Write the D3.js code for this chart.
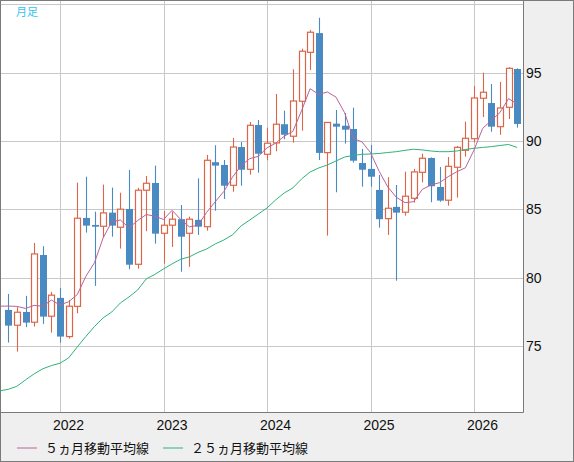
<!DOCTYPE html>
<html>
<head>
<meta charset="utf-8">
<script src="https://cdn.jsdelivr.net/npm/d3@7"></script>
<style>
  body { margin: 0; background: #fff; }
  svg { display: block; }
</style>
</head>
<body>
<div id="chart"></div>
<script>
// monthly candles, Jul 2021 .. Jun 2026
const months = d3.timeMonth.range(new Date(2021, 6, 1), new Date(2026, 6, 1))

const opens = [77.64, 76.52, 77.49, 76.74, 81.66, 77.18, 78.52, 75.69, 77.90, 84.37,
  83.86, 83.76, 84.76, 83.69, 85.03, 80.98, 86.40, 86.93, 83.25, 83.84,
  84.28, 83.25, 84.23, 83.73, 88.45, 88.25, 86.76, 89.56, 87.93, 91.17,
  89.03, 89.86, 91.23, 90.35, 92.91, 96.49, 97.90, 89.15, 91.27, 91.12,
  90.88, 88.39, 87.96, 86.42, 84.32, 85.18, 84.79, 85.81, 87.71, 88.76,
  86.64, 85.67, 88.08, 89.32, 90.17, 93.13, 92.78, 91.05, 92.47, 95.27]
const highs = [78.81, 77.84, 78.67, 82.54, 82.30, 78.96, 79.25, 78.37, 86.95, 87.39,
  84.83, 86.81, 86.59, 86.22, 87.88, 86.57, 87.44, 88.20, 84.88, 84.83,
  85.32, 84.47, 87.27, 88.98, 89.69, 88.61, 90.22, 89.93, 91.39, 91.54,
  90.98, 93.44, 92.22, 95.25, 96.76, 98.12, 99.02, 91.39, 92.27, 92.05,
  92.44, 89.42, 89.71, 87.52, 87.35, 86.78, 87.76, 87.96, 89.07, 88.80,
  88.10, 88.83, 89.64, 91.42, 94.03, 95.00, 94.17, 94.32, 95.40, 95.32]
const lows = [75.25, 74.59, 76.38, 76.42, 76.62, 75.98, 75.25, 75.54, 77.40, 83.30,
  79.40, 82.93, 83.00, 82.13, 80.62, 80.66, 83.40, 82.49, 81.03, 82.25,
  80.44, 80.79, 83.13, 83.44, 84.90, 85.76, 86.29, 86.73, 87.54, 87.68,
  88.59, 89.25, 90.13, 89.88, 90.76, 95.20, 88.61, 83.08, 86.25, 89.81,
  88.42, 86.66, 86.66, 83.66, 83.13, 79.78, 84.54, 85.49, 86.98, 85.52,
  85.56, 85.27, 85.86, 88.86, 89.91, 91.76, 90.68, 90.46, 91.61, 90.98]
const closes = [76.49, 77.47, 76.71, 81.74, 77.15, 78.72, 75.69, 77.91, 84.35, 83.81,
  83.73, 84.74, 83.81, 85.01, 80.95, 86.40, 86.91, 83.22, 83.84, 84.28,
  83.00, 84.28, 83.73, 88.59, 88.20, 86.73, 89.56, 87.90, 91.15, 89.07,
  89.84, 91.23, 90.46, 92.93, 96.57, 97.96, 89.13, 91.36, 91.05, 90.83,
  88.56, 87.90, 87.39, 84.28, 85.08, 84.76, 85.96, 87.74, 88.74, 86.69,
  85.64, 88.15, 89.54, 90.20, 93.15, 93.57, 91.05, 92.42, 95.32, 91.25]

// moving averages, first value is Jun 2021 (off the left edge)
const ma5 = [77.92, 77.92, 77.90, 77.75, 77.97, 77.91, 78.36, 78.00, 78.24, 78.76, 80.10,
  81.10, 82.91, 84.09, 84.22, 83.65, 84.18, 84.62, 84.50, 84.26, 84.93,
  84.25, 83.72, 83.83, 84.78, 85.56, 86.31, 87.36, 88.20, 88.71, 88.88,
  89.50, 89.84, 90.35, 90.71, 92.21, 93.83, 93.41, 93.59, 93.21, 92.07,
  90.19, 89.94, 89.15, 87.79, 86.64, 85.88, 85.49, 85.56, 86.46, 86.78,
  86.95, 87.39, 87.75, 88.04, 89.34, 90.92, 91.50, 92.08, 93.10, 92.72]
const ma25 = [71.72, 71.83, 72.05, 72.52, 72.96, 73.33, 73.57, 73.74, 74.13, 74.93, 75.70,
  76.43, 77.06, 77.49, 78.15, 78.59, 79.10, 79.91, 80.24, 80.64, 81.01,
  81.35, 81.52, 81.85, 82.10, 82.47, 82.76, 83.13, 83.79, 84.22, 84.66,
  85.10, 85.69, 86.20, 86.57, 87.22, 87.74, 88.03, 88.25, 88.54, 88.83,
  88.94, 89.03, 89.05, 89.09, 89.16, 89.22, 89.32, 89.40, 89.35, 89.27,
  89.22, 89.22, 89.27, 89.38, 89.47, 89.53, 89.59, 89.67, 89.75, 89.53]

const yTicks = [75, 80, 85, 90, 95]
const yGrid = [75, 80, 85, 90, 95, 100]
const legendNames = ['５ヵ月移動平均線', '２５ヵ月移動平均線']

const W = 574, H = 462
const plot = { left: 1, top: 1, right: 523, bottom: 412 }
const upColor = '#dc6548', downColor = '#4a8ac2'
const ma5Color = '#b8649a', ma25Color = '#2fb37a'

const x = d3.scaleLinear().domain([6, 54]).range([60, 474])
const y = d3.scaleLinear().domain([75, 95]).range([346, 72.7])

const candles = months.map((d, i) => ({
  date: d, i, o: opens[i], h: highs[i], l: lows[i], c: closes[i]
}))
const yearStarts = candles.filter(d => d.date.getMonth() === 0).map(d => d.i)

const svg = d3.select('#chart').append('svg')
  .attr('width', W)
  .attr('height', H)
  .style('font-family', '"Liberation Sans", Arial, sans-serif')

svg.append('rect')
  .attr('width', W).attr('height', H)
  .attr('fill', '#efefef')

svg.append('rect')
  .attr('x', plot.left).attr('y', plot.top)
  .attr('width', plot.right - plot.left).attr('height', plot.bottom - plot.top)
  .attr('fill', '#fff')

svg.append('clipPath').attr('id', 'clip')
  .append('rect')
  .attr('x', plot.left).attr('y', plot.top)
  .attr('width', plot.right - plot.left).attr('height', plot.bottom - plot.top)

const grid = svg.append('g')
  .attr('stroke', '#c8c8c8')
  .attr('stroke-width', 1)
  .attr('clip-path', 'url(#clip)')

grid.selectAll('line.h')
  .data(yGrid)
  .join('line')
  .attr('class', 'h')
  .attr('x1', plot.left).attr('x2', plot.right)
  .attr('y1', d => Math.round(y(d)) + 0.5)
  .attr('y2', d => Math.round(y(d)) + 0.5)

grid.selectAll('line.v')
  .data(yearStarts)
  .join('line')
  .attr('class', 'v')
  .attr('y1', plot.top).attr('y2', plot.bottom)
  .attr('x1', d => Math.round(x(d)) + 0.5)
  .attr('x2', d => Math.round(x(d)) + 0.5)

const body = svg.append('g').attr('clip-path', 'url(#clip)')

// wicks
body.selectAll('line.wick')
  .data(candles)
  .join('line')
  .attr('class', 'wick')
  .attr('x1', d => Math.round(x(d.i)) + 0.5)
  .attr('x2', d => Math.round(x(d.i)) + 0.5)
  .attr('y1', d => y(d.h))
  .attr('y2', d => y(d.l))
  .attr('stroke', d => d.c >= d.o ? upColor : downColor)
  .attr('stroke-width', 1.1)

// bodies
body.selectAll('rect.up')
  .data(candles.filter(d => d.c >= d.o))
  .join('rect')
  .attr('class', 'up')
  .attr('x', d => Math.round(x(d.i)) - 2.5)
  .attr('width', 6)
  .attr('y', d => y(d.c))
  .attr('height', d => Math.max(1, y(d.o) - y(d.c)))
  .attr('fill', '#fff')
  .attr('stroke', upColor)
  .attr('stroke-width', 1.2)

body.selectAll('rect.down')
  .data(candles.filter(d => d.c < d.o))
  .join('rect')
  .attr('class', 'down')
  .attr('x', d => Math.round(x(d.i)) - 3)
  .attr('width', 7)
  .attr('y', d => y(d.o))
  .attr('height', d => Math.max(1.5, y(d.c) - y(d.o)))
  .attr('fill', downColor)

// moving averages (index 0 = month before first candle)
const maLine = d3.line()
  .x((d, i) => x(i - 1))
  .y(d => y(d))

body.append('path')
  .datum(ma25)
  .attr('d', maLine)
  .attr('fill', 'none')
  .attr('stroke', ma25Color)
  .attr('stroke-width', 1)

body.append('path')
  .datum(ma5)
  .attr('d', maLine)
  .attr('fill', 'none')
  .attr('stroke', ma5Color)
  .attr('stroke-width', 1)

// frame
svg.append('rect')
  .attr('x', 0.5).attr('y', 0.5)
  .attr('width', W - 1).attr('height', H - 1)
  .attr('fill', 'none')
  .attr('stroke', '#7a7a7a')

svg.append('path')
  .attr('d', `M${plot.right + 0.5},0.5V${plot.bottom + 0.5}H0.5`)
  .attr('fill', 'none')
  .attr('stroke', '#7a7a7a')

// y axis labels
const yAxis = svg.append('g')
  .attr('transform', `translate(${plot.right + 1},0)`)
  .call(d3.axisRight(y).tickValues(yTicks).tickSize(0).tickPadding(2))
yAxis.select('.domain').remove()
yAxis.selectAll('text')
  .attr('font-size', 14)
  .attr('font-family', '"Liberation Sans", Arial, sans-serif')
  .attr('fill', '#111')

// x axis labels
const xAxis = svg.append('g')
  .attr('transform', `translate(0,${plot.bottom})`)
  .call(d3.axisBottom(x).tickValues(yearStarts).tickSize(0).tickPadding(8)
    .tickFormat(i => d3.timeFormat('%Y')(months[i])))
xAxis.select('.domain').remove()
xAxis.selectAll('text')
  .attr('dx', 8)
  .attr('font-size', 14)
  .attr('font-family', '"Liberation Sans", Arial, sans-serif')
  .attr('fill', '#111')

// legend
const legend = svg.append('g')
  .attr('transform', 'translate(0,448)')
const legendItems = legend.selectAll('g')
  .data(legendNames)
  .join('g')
  .attr('transform', (d, i) => `translate(${i === 0 ? 17 : 163},0)`)
legendItems.append('line')
  .attr('x1', 0).attr('x2', 20)
  .attr('stroke', (d, i) => i === 0 ? ma5Color : ma25Color)
  .attr('stroke-width', 1)
legendItems.append('text')
  .attr('x', 28)
  .attr('dy', '0.36em')
  .attr('font-size', 13)
  .attr('font-family', '"Noto Sans CJK JP", sans-serif')
  .attr('fill', '#111')
  .text(d => d)

// period label
svg.append('text')
  .attr('x', 16).attr('y', 16)
  .attr('font-size', 11)
  .attr('font-family', '"Noto Sans CJK JP", sans-serif')
  .attr('fill', '#33c3f0')
  .text('月足')
</script>
</body>
</html>
